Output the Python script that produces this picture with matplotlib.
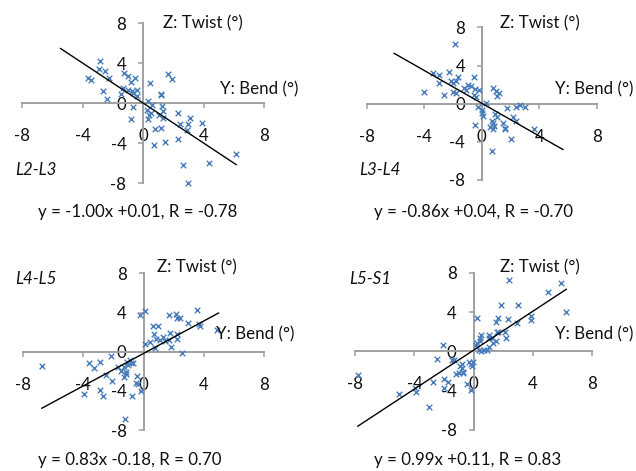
import matplotlib
matplotlib.use("Agg")
import matplotlib.pyplot as plt
import numpy as np

plt.rcParams['font.family'] = ['Lato', 'DejaVu Sans']

# ---------------- data ----------------
segments = ["L2-L3", "L3-L4", "L4-L5", "L5-S1"]

l23_bend = [-2.85, -2.91, -2.52, -3.66, -3.44, -2.27, -2.67, -2.38, -1.26, -1.04, -0.57, -0.82, -1.32,
            -1.04, -0.77, -0.44, -0.71, -0.44, -1.48, -0.66, -0.84, 0.44, 1.61, 1.88, 1.15, 1.19, 0.29,
            0.57, 0.22, 0.35, 0.51, 0.31, 1.24, 1.32, 1.06, 1.32, 0.79, 1.17, 0.73, 1.41, 2.30, 2.45,
            3.11, 2.96, 2.91, 3.86, 2.27, 2.60, 2.94, 4.37, 6.14]
l23_twist = [4.23, 3.40, 3.23, 2.53, 2.30, 2.57, 1.23, 0.43, 3.07, 2.70, 2.57, 2.17, 1.57,
             1.37, 1.23, 1.30, 1.03, 0.70, 0.97, -0.37, -1.60, 2.07, 2.90, 2.43, 0.97, 0.80, 0.20,
             -0.13, -0.70, -1.20, -0.97, -1.53, -0.30, -0.80, -1.20, -1.43, -2.53, -2.47, -4.13, -3.90, -0.93, -2.03,
             -1.47, -2.03, -2.63, -1.93, -3.60, -6.20, -7.93, -5.97, -5.03]

l34_bend = [-1.88, -3.36, -2.99, -2.31, -3.01, -2.13, -2.01, -1.78, -1.64, -0.58, -4.05, -2.66, -1.99,
            -1.81, -1.27, -0.95, -0.76, -1.13, -0.46, -0.23, -0.58, -0.44, -0.30, 0.30, -0.02, 0.00, 0.05,
            -0.49, 0.76, 0.95, 1.18, 1.06, 1.76, 0.90, 1.02, 0.72, 0.76, 0.86, 0.56, 0.79, 0.72, 1.50,
            1.60, 1.62, 2.15, 2.38, 2.38, 2.66, 3.03, 2.04, 3.59]
l34_twist = [6.26, 3.25, 3.00, 3.32, 2.20, 2.38, 2.20, 2.38, 2.76, 2.76, 1.22, 0.91, 1.22,
             1.08, 1.68, 1.92, 1.85, 1.43, 1.54, 1.43, 0.91, 0.66, -0.31, 0.03, -0.66, -1.01, -1.26,
             -2.27, 1.61, 1.36, 1.15, 0.84, -0.49, -1.12, -1.36, -1.78, -2.06, -2.31, -2.41, -2.69, -4.93, -1.99,
             -2.52, -2.66, -1.43, -1.78, -0.38, -0.17, -0.31, -3.74, -2.62]

l45_bend = [-6.73, -3.64, -3.25, -2.91, -2.12, -3.93, -2.91, -2.71, -2.49, -2.08, -1.68, -1.50, -1.28,
            -1.19, -1.15, -1.28, -1.02, -0.86, -0.71, -1.10, -0.88, -0.75, -1.24, -0.44, -0.49, -0.35, -0.18,
            -0.22, 0.13, 0.07, 0.44, 0.62, 0.93, 0.71, 0.84, 1.06, 0.77, 1.32, 1.66, 1.77, 1.72, 1.81,
            2.14, 2.21, 2.45, 2.23, 2.23, 2.54, 2.98, 3.51, 3.69, 3.75, 4.90, 1.43]
l45_twist = [-1.46, -1.19, -1.70, -1.02, -0.41, -4.35, -3.91, -4.56, -2.38, -2.96, -1.60, -1.94, -1.60,
             -2.04, -2.31, -2.62, -1.36, -1.12, -1.12, -1.02, -0.88, -4.52, -6.87, -2.48, -3.23, -3.33, -4.01,
             3.74, 4.12, 0.75, 0.95, 2.62, 2.65, 1.77, 1.26, 1.19, 0.34, 1.46, 3.74, 1.87, 1.16, 0.44,
             3.81, 3.40, 3.40, 1.77, 1.26, -0.17, 2.89, 4.22, 2.79, 2.62, 2.21, 1.09]

l5s1_bend = [-7.83, -5.01, -3.93, -3.88, -2.98, -2.75, -2.08, -2.48, -2.03, -2.03, -1.74, -1.44, -1.29,
             -1.17, -0.99, -0.90, -0.81, -0.72, -0.68, -0.77, -0.32, -0.18, -0.05, -0.09, -0.43, -0.16, 0.23,
             0.18, 0.27, 0.41, 0.50, 0.41, 0.36, 0.52, 0.74, 0.90, 1.04, 1.08, 1.02, 1.53, 1.65, 1.53,
             1.69, 1.87, 2.14, 2.17, 2.33, 2.39, 3.00, 2.96, 3.86, 3.86, 5.03, 5.94, 6.23, 1.35, 1.60, 1.26]
l5s1_twist = [-2.41, -4.39, -3.71, -4.12, -5.71, -3.10, 0.65, -0.78, -2.86, -3.71, -3.10, -0.88, -0.88,
              -2.35, -2.24, -1.46, -1.73, -2.07, -2.18, -1.33, -1.12, -1.29, -1.12, -1.46, -3.37, -3.95, 3.44,
              0.65, 0.82, 1.05, 1.67, 1.33, 0.14, 0.07, 0.14, 0.14, 1.67, 1.39, 0.48, 2.96, 3.37, 1.05,
              1.94, 4.73, 1.94, 1.39, 3.30, 7.28, 4.73, 2.86, 3.64, 3.20, 6.02, 6.94, 4.05, 0.88, 2.00, 1.33]

slopes = [-1.00, -0.86, 0.83, 0.99]
intercepts = [0.01, 0.04, -0.18, 0.11]
r_values = [-0.78, -0.70, 0.70, 0.83]
line_x_start = [-5.47, -6.09, -6.73, -7.83]
line_x_end = [6.14, 5.63, 4.97, 6.28]

ticks = [-8, -4, 0, 4, 8]
x_label = "Y: Bend (°)"
y_label = "Z: Twist (°)"

bends = [l23_bend, l34_bend, l45_bend, l5s1_bend]
twists = [l23_twist, l34_twist, l45_twist, l5s1_twist]

# ---------------- layout ----------------
W, H = 636, 471
fig = plt.figure(figsize=(W / 100, H / 100), dpi=100)

# axes boxes in pixels: (x at -8, x at 8, y at 8, y at -8)
boxes = [(22.3, 264.3, 23.3, 183.3),
         (366.7, 597.0, 27.4, 180.0),
         (22.7, 264.3, 273.3, 430.1),
         (355.3, 591.7, 272.9, 429.7)]

# text positions in pixels: twist label (left), bend label (right edge), segment label, equation
text_pos = [
    dict(twist=(163, 23), bend=(298, 89), seg=(15, 170), eq=(38, 212)),
    dict(twist=(500, 23), bend=(633, 89), seg=(359, 170), eq=(374, 212)),
    dict(twist=(157, 267), bend=(294, 334), seg=(15, 279), eq=(38, 460)),
    dict(twist=(500, 267), bend=(633, 334), seg=(349, 279), eq=(374, 460)),
]

axis_color = "#a0a0a0"
marker_color = "#4a7ebb"
fs = 12.2

def px(x, y):
    return x / W, 1 - y / H

for i in range(4):
    l, r, t, b = boxes[i]
    ax = fig.add_axes([l / W, 1 - b / H, (r - l) / W, (b - t) / H])
    ax.set_xlim(-8, 8)
    ax.set_ylim(-8, 8)
    ax.patch.set_alpha(0)
    for s in ("top", "right"):
        ax.spines[s].set_visible(False)
    ax.spines["left"].set_position("zero")
    ax.spines["bottom"].set_position("zero")
    for s in ("left", "bottom"):
        ax.spines[s].set_color(axis_color)
        ax.spines[s].set_linewidth(1.4)
    ax.set_xticks(ticks)
    ax.set_yticks(ticks)
    ax.set_xticklabels([str(v) for v in ticks])
    ax.set_yticklabels([str(v) for v in ticks])
    ax.tick_params(axis="x", direction="out", length=3.6, width=1.1, color=axis_color,
                   labelsize=fs, pad=14.5, labelcolor="#111111")
    ax.tick_params(axis="y", direction="out", length=3.6, width=1.1, color=axis_color,
                   labelsize=fs, pad=8.5, labelcolor="#111111")

    ax.scatter(bends[i], twists[i], marker="x", s=16, linewidths=1.0,
               color=marker_color, zorder=3, clip_on=False)

    lx = np.array([line_x_start[i], line_x_end[i]])
    ly = slopes[i] * lx + intercepts[i]
    ax.plot(lx, ly, color="black", linewidth=1.0, zorder=4, clip_on=False)

    tp = text_pos[i]
    fig.text(*px(*tp["twist"]), y_label, ha="left", va="center", fontsize=fs, color="#111111")
    fig.text(*px(*tp["bend"]), x_label, ha="right", va="center", fontsize=fs, color="#111111")
    fig.text(*px(*tp["seg"]), segments[i], ha="left", va="center", fontsize=fs,
             style="italic", color="#111111")
    sign = "+" if intercepts[i] >= 0 else "-"
    eq = f"y = {slopes[i]:.2f}x {sign}{abs(intercepts[i]):.2f}, R = {r_values[i]:.2f}"
    fig.text(*px(*tp["eq"]), eq, ha="left", va="center", fontsize=fs, color="#111111")

fig.savefig("out.png", dpi=100)
